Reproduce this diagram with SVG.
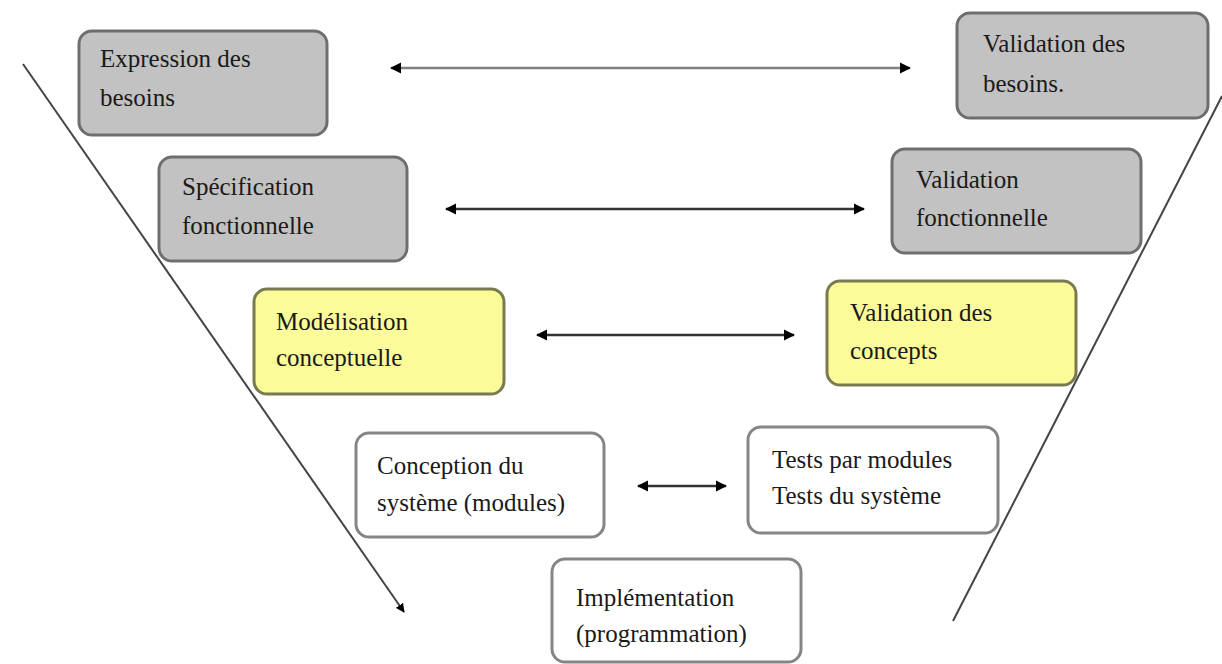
<svg xmlns="http://www.w3.org/2000/svg" width="1222" height="664" viewBox="0 0 1222 664">
<style>
.box{stroke-width:3}
.gray{fill:#c2c2c2;stroke:#6e6e6e}
.yellow{fill:#fbfb9a;stroke:#7a7a50}
.white{fill:#ffffff;stroke:#858585}
text{font-family:"Liberation Serif","Times New Roman",serif;font-size:25px;fill:#1a1a1a}
.conn{stroke:#333;stroke-width:2.5;fill:none}
.diag{stroke:#444;stroke-width:2;fill:none}
</style>
<defs>
<marker id="ah" viewBox="0 0 10 10" refX="9" refY="5" markerWidth="4.5" markerHeight="4.5" orient="auto-start-reverse" markerUnits="strokeWidth">
<path d="M0,0 L10,5 L0,10 z" fill="#000"/>
</marker>
</defs>
<rect width="1222" height="664" fill="#fff"/>
<g id="connectors">
<line class="diag" x1="23" y1="64" x2="404" y2="612" marker-end="url(#ah)"/>
<line class="diag" x1="1222" y1="96" x2="953" y2="621"/>
<line class="conn" x1="391" y1="68" x2="910" y2="68" marker-start="url(#ah)" marker-end="url(#ah)" style="stroke:#808080"/>
<line class="conn" x1="446" y1="209" x2="864" y2="209" marker-start="url(#ah)" marker-end="url(#ah)"/>
<line class="conn" x1="537" y1="335" x2="794" y2="335" marker-start="url(#ah)" marker-end="url(#ah)"/>
<line class="conn" x1="638" y1="486" x2="726" y2="486" marker-start="url(#ah)" marker-end="url(#ah)"/>
</g>
<g id="n1">
<rect class="box gray" x="79" y="31" width="248" height="104" rx="13"/>
<text x="100" y="67">Expression des</text>
<text x="100" y="106">besoins</text>
</g>
<g id="n2">
<rect class="box gray" x="159" y="157" width="248" height="104" rx="13"/>
<text x="182" y="195">Spécification</text>
<text x="182" y="234">fonctionnelle</text>
</g>
<g id="n3">
<rect class="box yellow" x="254" y="289" width="250" height="105" rx="13"/>
<text x="276" y="330">Modélisation</text>
<text x="276" y="366">conceptuelle</text>
</g>
<g id="n4">
<rect class="box white" x="356" y="433" width="248" height="104" rx="13"/>
<text x="377" y="474">Conception du</text>
<text x="377" y="511">système (modules)</text>
</g>
<g id="n5">
<rect class="box white" x="552" y="559" width="249" height="103" rx="13"/>
<text x="576" y="606">Implémentation</text>
<text x="576" y="642">(programmation)</text>
</g>
<g id="n6">
<rect class="box white" x="748" y="427" width="250" height="106" rx="13"/>
<text x="772" y="468">Tests par modules</text>
<text x="772" y="504">Tests du système</text>
</g>
<g id="n7">
<rect class="box yellow" x="827" y="281" width="249" height="104" rx="13"/>
<text x="850" y="321">Validation des</text>
<text x="850" y="359">concepts</text>
</g>
<g id="n8">
<rect class="box gray" x="892" y="149" width="249" height="104" rx="13"/>
<text x="916" y="188">Validation</text>
<text x="916" y="226">fonctionnelle</text>
</g>
<g id="n9">
<rect class="box gray" x="957" y="13" width="251" height="105" rx="13"/>
<text x="983" y="52">Validation des</text>
<text x="983" y="92">besoins.</text>
</g>
</svg>
